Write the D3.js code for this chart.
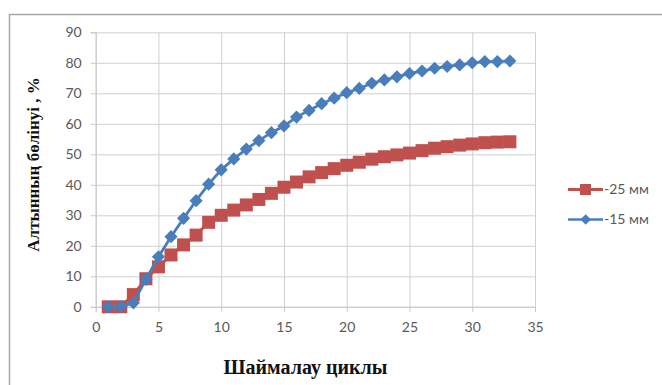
<!DOCTYPE html>
<html>
<head>
<meta charset="utf-8">
<script src="https://cdn.jsdelivr.net/npm/d3@7"></script>
<style>
  body { margin: 0; background: #fff; }
  svg { display: block; }
</style>
</head>
<body>
<script>
// Drawing area
const w = 662;
const h = 385;

// Plot area edges
const plotLeft = 95.7, plotRight = 535, plotTop = 32.3, plotBottom = 306.8;

// Data
const cycles = d3.range(1, 34);
const minus25 = [0, 0, 4, 9.2, 13.1, 17, 20.3, 23.5, 27.7, 30, 31.7, 33.4, 35.2, 37.2, 39.2,
  40.9, 42.6, 44, 45.3, 46.4, 47.4, 48.4, 49.2, 49.8, 50.4, 51.2, 52, 52.5, 53, 53.4, 53.8, 54, 54.1];
const minus15 = [0, 0, 1.3, 9, 16.4, 23, 29, 34.8, 40.2, 44.9, 48.5, 51.7, 54.5, 57.1, 59.3,
  62.2, 64.4, 66.6, 68.4, 70.2, 71.6, 73.3, 74.4, 75.4, 76.5, 77.3, 78.2, 78.8, 79.3, 80, 80.4, 80.4, 80.6];
const seriesNames = ["-25 мм", "-15 мм"];
const xTicks = [0, 5, 10, 15, 20, 25, 30, 35];
const yTicks = [0, 10, 20, 30, 40, 50, 60, 70, 80, 90];

const svg = d3.select("body").append("svg").attr("width", w).attr("height", h);

// chart frame
svg.append("rect")
  .attr("x", 9.5).attr("y", 14.5)
  .attr("width", 700).attr("height", 400)
  .attr("fill", "none").attr("stroke", "#a6a6a6").attr("stroke-width", 1.5);

const xScale = d3.scaleLinear().domain([0, 35]).range([plotLeft, plotRight]);
const yScale = d3.scaleLinear().domain([0, 90]).range([plotBottom, plotTop]);

// gridlines
svg.append("g")
  .attr("transform", "translate(0," + plotBottom + ")")
  .call(d3.axisBottom(xScale).tickValues(xTicks).tickSize(-(plotBottom - plotTop)).tickFormat(""))
  .call(g => g.select(".domain").remove())
  .selectAll("line").attr("stroke", "#d0d0d0");

svg.append("g")
  .attr("transform", "translate(" + plotLeft + ",0)")
  .call(d3.axisLeft(yScale).tickValues(yTicks).tickSize(-(plotRight - plotLeft)).tickFormat(""))
  .call(g => g.select(".domain").remove())
  .selectAll("line").attr("stroke", "#d0d0d0");

// axes with ticks and labels
const xAxis = svg.append("g")
  .attr("transform", "translate(0," + plotBottom + ")")
  .call(d3.axisBottom(xScale).tickValues(xTicks).tickSize(5).tickPadding(10));
const yAxis = svg.append("g")
  .attr("transform", "translate(" + plotLeft + ",0)")
  .call(d3.axisLeft(yScale).tickValues(yTicks).tickSize(5).tickPadding(9));

[xAxis, yAxis].forEach(g => {
  g.select(".domain").attr("stroke", "#c8c8c8");
  g.selectAll("line").attr("stroke", "#c8c8c8");
  g.selectAll("text")
    .attr("fill", "#595959")
    .style("font-family", "Lato, 'Open Sans', sans-serif")
    .style("font-size", "14px");
});

// series lines and markers
const line = d3.line().x((d, i) => xScale(cycles[i])).y(d => yScale(d));

svg.append("path").datum(minus25)
  .attr("d", line).attr("fill", "none")
  .attr("stroke", "#c0504d").attr("stroke-width", 3);
svg.append("g").selectAll("rect").data(minus25).enter().append("rect")
  .attr("x", (d, i) => xScale(cycles[i]) - 6.5)
  .attr("y", d => yScale(d) - 6.5)
  .attr("width", 13).attr("height", 13)
  .attr("fill", "#c0504d");

svg.append("path").datum(minus15)
  .attr("d", line).attr("fill", "none")
  .attr("stroke", "#4a7ebb").attr("stroke-width", 2.8);
svg.append("g").selectAll("path").data(minus15).enter().append("path")
  .attr("d", d3.symbol(d3.symbolDiamond2, 110))
  .attr("transform", (d, i) => "translate(" + xScale(cycles[i]) + "," + yScale(d) + ")")
  .attr("fill", "#4a7ebb");

// legend
const legend = svg.append("g");
const legendColors = ["#c0504d", "#4a7ebb"];
seriesNames.forEach((name, i) => {
  const y = 189.5 + i * 30;
  legend.append("line")
    .attr("x1", 568).attr("x2", 603).attr("y1", y).attr("y2", y)
    .attr("stroke", legendColors[i]).attr("stroke-width", i === 0 ? 3 : 2.5);
  if (i === 0) {
    legend.append("rect").attr("x", 580).attr("y", y - 5.5)
      .attr("width", 11).attr("height", 11).attr("fill", legendColors[i]);
  } else {
    legend.append("path").attr("d", d3.symbol(d3.symbolDiamond2, 70))
      .attr("transform", "translate(585.7," + y + ")").attr("fill", legendColors[i]);
  }
  legend.append("text")
    .attr("x", 604).attr("y", y).attr("dy", "0.35em")
    .attr("fill", "#595959")
    .style("font-family", "Lato, 'Open Sans', sans-serif")
    .style("font-size", "14px")
    .text(name);
});

// axis titles
svg.append("text")
  .attr("x", 305.5).attr("y", 374)
  .attr("text-anchor", "middle")
  .style("font-family", "'Liberation Serif', 'Times New Roman', serif")
  .style("font-weight", "bold")
  .style("font-size", "20px")
  .attr("fill", "#111")
  .text("Шаймалау циклы");

svg.append("text")
  .attr("transform", "translate(39,164.5) rotate(-90)")
  .attr("text-anchor", "middle")
  .style("font-family", "'Liberation Serif', 'Times New Roman', serif")
  .style("font-weight", "bold")
  .style("font-size", "17px")
  .attr("fill", "#111")
  .text("Алтынның бөлінуі , %");
</script>
</body>
</html>
